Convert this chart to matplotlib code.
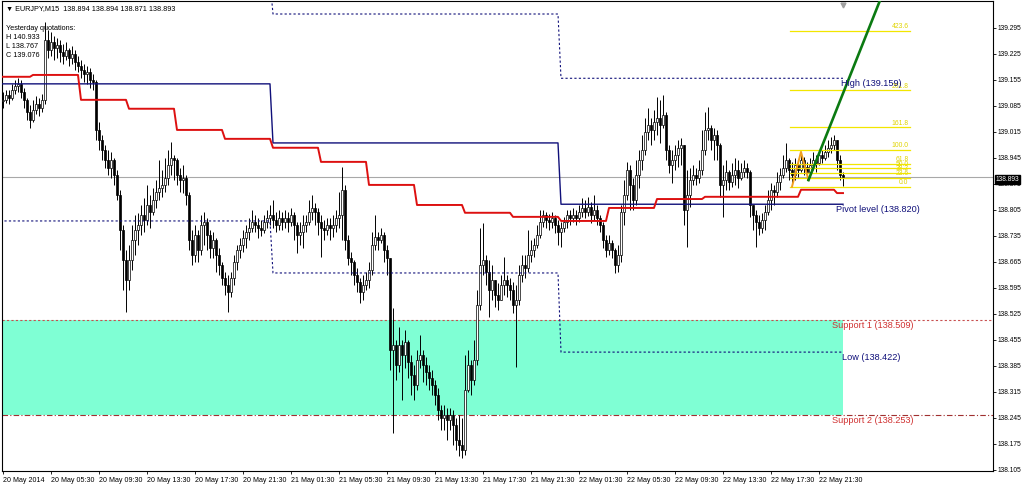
import numpy as np
import matplotlib
matplotlib.use("Agg")
import matplotlib.pyplot as plt
import matplotlib.transforms as mtransforms

plt.rcParams['font.family'] = ['Liberation Sans', 'DejaVu Sans']

# EURJPY M15 bars, 20 May 01:30 .. 22 May 23:30
first_open = 139.098
closes = [
    139.101, 139.114, 139.106, 139.128, 139.138, 139.144, 139.122, 139.101, 139.069, 139.047,
    139.074, 139.090, 139.079, 139.101, 139.262, 139.235, 139.257, 139.241, 139.249, 139.230,
    139.219, 139.235, 139.214, 139.225, 139.203, 139.192, 139.182, 139.171, 139.176, 139.155,
    139.149, 139.020, 138.993, 138.966, 138.939, 138.918, 138.939, 138.899, 138.845, 138.751,
    138.670, 138.616, 138.670, 138.724, 138.751, 138.764, 138.791, 138.778, 138.818, 138.799,
    138.832, 138.853, 138.864, 138.872, 138.891, 138.926, 138.945, 138.939, 138.899, 138.885,
    138.891, 138.845, 138.724, 138.684, 138.737, 138.697, 138.764, 138.772, 138.737, 138.702,
    138.724, 138.684, 138.657, 138.622, 138.603, 138.584, 138.622, 138.665, 138.697, 138.711,
    138.729, 138.745, 138.756, 138.772, 138.764, 138.756, 138.751, 138.772, 138.783, 138.791,
    138.778, 138.764, 138.783, 138.772, 138.783, 138.772, 138.791, 138.764, 138.737, 138.745,
    138.764, 138.772, 138.799, 138.810, 138.799, 138.772, 138.756, 138.751, 138.764, 138.756,
    138.764, 138.783, 138.791, 138.859, 138.724, 138.675, 138.665, 138.630, 138.611, 138.584,
    138.603, 138.616, 138.643, 138.711, 138.732, 138.724, 138.737, 138.697, 138.675, 138.428,
    138.441, 138.388, 138.441, 138.414, 138.449, 138.396, 138.361, 138.334, 138.401, 138.414,
    138.388, 138.369, 138.352, 138.334, 138.307, 138.266, 138.245, 138.253, 138.239, 138.253,
    138.226, 138.186, 138.172, 138.159, 138.320, 138.388, 138.347, 138.401, 138.549, 138.657,
    138.670, 138.638, 138.589, 138.616, 138.576, 138.562, 138.603, 138.616, 138.603, 138.589,
    138.549, 138.562, 138.630, 138.657, 138.649, 138.684, 138.697, 138.711, 138.737, 138.772,
    138.791, 138.778, 138.772, 138.783, 138.764, 138.745, 138.756, 138.772, 138.791, 138.783,
    138.791, 138.783, 138.799, 138.810, 138.799, 138.813, 138.791, 138.805, 138.783, 138.764,
    138.724, 138.697, 138.716, 138.697, 138.657, 138.684, 138.799, 138.845, 138.912, 138.872,
    138.832, 138.899, 138.939, 138.966, 139.015, 139.034, 139.020, 139.042, 139.052, 139.034,
    139.060, 138.966, 138.926, 138.939, 138.953, 138.972, 138.980, 138.805, 138.845, 138.885,
    138.899, 138.891, 138.912, 138.966, 139.020, 139.025, 138.993, 139.007, 138.980, 138.872,
    138.885, 138.907, 138.880, 138.899, 138.912, 138.891, 138.907, 138.918, 138.907, 138.818,
    138.791, 138.772, 138.756, 138.778, 138.799, 138.832, 138.859, 138.853, 138.880, 138.899,
    138.918, 138.939, 138.912, 138.899, 138.926, 138.912, 138.939, 138.920, 138.907, 138.926,
    138.939, 138.931, 138.953, 138.945, 138.961, 138.972, 138.980, 138.993, 138.939, 138.899,
    138.893,
]
highs = [
    139.122, 139.128, 139.128, 139.144, 139.155, 139.160, 139.155, 139.133, 139.106, 139.087,
    139.101, 139.112, 139.106, 139.117, 139.311, 139.289, 139.284, 139.273, 139.268, 139.262,
    139.252, 139.257, 139.241, 139.246, 139.235, 139.219, 139.208, 139.198, 139.192, 139.187,
    139.171, 139.155, 139.042, 139.007, 138.980, 138.966, 138.961, 138.945, 138.912, 138.859,
    138.764, 138.697, 138.711, 138.764, 138.791, 138.797, 138.818, 138.837, 138.872, 138.845,
    138.864, 138.885, 138.939, 138.912, 138.945, 138.966, 138.988, 138.953, 138.945, 138.918,
    138.926, 138.899, 138.853, 138.751, 138.764, 138.751, 138.791, 138.799, 138.783, 138.751,
    138.745, 138.729, 138.702, 138.665, 138.638, 138.630, 138.638, 138.684, 138.711, 138.729,
    138.751, 138.764, 138.783, 138.805, 138.791, 138.783, 138.778, 138.791, 138.805, 138.818,
    138.832, 138.799, 138.805, 138.799, 138.805, 138.799, 138.810, 138.799, 138.772, 138.772,
    138.791, 138.791, 138.832, 138.845, 138.824, 138.810, 138.791, 138.778, 138.783, 138.783,
    138.791, 138.805, 138.853, 138.920, 138.872, 138.737, 138.692, 138.670, 138.649, 138.622,
    138.630, 138.638, 138.665, 138.745, 138.791, 138.745, 138.756, 138.745, 138.711, 138.675,
    138.541, 138.455, 138.490, 138.455, 138.482, 138.455, 138.414, 138.388, 138.428, 138.468,
    138.428, 138.409, 138.388, 138.374, 138.347, 138.326, 138.280, 138.280, 138.272, 138.272,
    138.266, 138.245, 138.253, 138.245, 138.414, 138.428, 138.401, 138.455, 138.589, 138.756,
    138.770, 138.684, 138.670, 138.657, 138.616, 138.608, 138.630, 138.678, 138.630, 138.622,
    138.611, 138.603, 138.657, 138.684, 138.684, 138.751, 138.724, 138.729, 138.764, 138.805,
    138.805, 138.799, 138.794, 138.799, 138.791, 138.778, 138.772, 138.786, 138.805, 138.805,
    138.810, 138.805, 138.818, 138.837, 138.832, 138.840, 138.826, 138.845, 138.818, 138.791,
    138.772, 138.737, 138.737, 138.724, 138.702, 138.711, 138.818, 138.885, 138.934, 138.926,
    138.891, 138.939, 138.966, 139.007, 139.052, 139.079, 139.052, 139.074, 139.109, 139.101,
    139.114, 139.069, 138.980, 138.966, 138.980, 138.993, 138.999, 138.980, 138.912, 138.918,
    138.926, 138.918, 138.939, 139.020, 139.069, 139.082, 139.034, 139.025, 139.020, 138.985,
    138.926, 138.939, 138.912, 138.931, 138.945, 138.939, 138.931, 138.939, 138.931, 138.912,
    138.818, 138.805, 138.791, 138.797, 138.818, 138.859, 138.877, 138.872, 138.907, 138.918,
    138.953, 138.985, 138.945, 138.934, 138.945, 138.939, 138.961, 138.947, 138.934, 138.945,
    138.961, 138.953, 138.966, 138.966, 138.980, 138.993, 139.001, 139.007, 138.993, 138.953,
    138.907,
]
lows = [
    139.079, 139.093, 139.090, 139.101, 139.117, 139.122, 139.106, 139.079, 139.047, 139.025,
    139.042, 139.063, 139.058, 139.069, 139.090, 139.214, 139.219, 139.208, 139.214, 139.203,
    139.198, 139.208, 139.192, 139.198, 139.182, 139.176, 139.160, 139.149, 139.144, 139.133,
    139.128, 138.993, 138.966, 138.939, 138.918, 138.899, 138.891, 138.872, 138.832, 138.697,
    138.589, 138.530, 138.589, 138.643, 138.684, 138.711, 138.737, 138.745, 138.764, 138.756,
    138.791, 138.810, 138.832, 138.840, 138.853, 138.872, 138.899, 138.885, 138.872, 138.853,
    138.850, 138.818, 138.697, 138.657, 138.665, 138.665, 138.684, 138.711, 138.697, 138.675,
    138.675, 138.638, 138.630, 138.603, 138.576, 138.530, 138.570, 138.603, 138.643, 138.675,
    138.692, 138.702, 138.724, 138.745, 138.745, 138.729, 138.735, 138.743, 138.756, 138.764,
    138.756, 138.745, 138.751, 138.751, 138.756, 138.745, 138.762, 138.724, 138.689, 138.711,
    138.702, 138.745, 138.764, 138.778, 138.764, 138.737, 138.678, 138.724, 138.737, 138.724,
    138.732, 138.745, 138.756, 138.724, 138.697, 138.657, 138.630, 138.603, 138.584, 138.554,
    138.562, 138.589, 138.595, 138.630, 138.697, 138.697, 138.716, 138.665, 138.630, 138.374,
    138.204, 138.347, 138.369, 138.293, 138.379, 138.352, 138.307, 138.293, 138.320, 138.379,
    138.342, 138.334, 138.320, 138.307, 138.280, 138.239, 138.213, 138.213, 138.186, 138.213,
    138.172, 138.159, 138.142, 138.137, 138.145, 138.315, 138.307, 138.334, 138.388, 138.536,
    138.630, 138.603, 138.517, 138.562, 138.544, 138.536, 138.562, 138.576, 138.570, 138.562,
    138.527, 138.382, 138.549, 138.611, 138.622, 138.638, 138.665, 138.678, 138.702, 138.729,
    138.759, 138.756, 138.751, 138.756, 138.743, 138.711, 138.705, 138.745, 138.756, 138.764,
    138.772, 138.764, 138.772, 138.786, 138.783, 138.789, 138.770, 138.778, 138.764, 138.745,
    138.702, 138.678, 138.684, 138.675, 138.635, 138.638, 138.665, 138.764, 138.832, 138.805,
    138.805, 138.818, 138.864, 138.912, 138.953, 138.993, 138.980, 138.993, 139.007, 138.985,
    139.025, 138.939, 138.904, 138.877, 138.912, 138.920, 138.926, 138.764, 138.705, 138.813,
    138.872, 138.872, 138.877, 138.899, 138.953, 138.993, 138.966, 138.939, 138.939, 138.840,
    138.786, 138.859, 138.859, 138.867, 138.872, 138.864, 138.885, 138.894, 138.891, 138.786,
    138.751, 138.705, 138.737, 138.743, 138.751, 138.791, 138.805, 138.818, 138.840, 138.859,
    138.891, 138.907, 138.885, 138.867, 138.885, 138.894, 138.907, 138.899, 138.885, 138.891,
    138.912, 138.907, 138.926, 138.931, 138.939, 138.947, 138.958, 138.966, 138.912, 138.885,
    138.869,
]

# red stepped average (one level per 4h block, block start bar)
ma_starts = [0, 10, 26, 42, 58, 74, 90, 106, 122, 138, 154, 170, 186, 202, 218, 234, 250, 266, 278]
ma_levels = [139.163, 139.168, 139.101, 139.077, 139.020, 138.996, 138.972, 138.934, 138.872,
             138.818, 138.797, 138.786, 138.775, 138.810, 138.834, 138.840, 138.840, 138.859, 138.850]

# daily pivot / high / low
day_starts = [0, 90, 186]
pivots = [139.144, 138.985, 138.820]
day_highs = [139.420, 139.332, 139.159]
day_lows = [138.775, 138.635, 138.422]
support1 = 138.509
support2 = 138.253

# fibo + zigzag + trend line
fib_low, fib_high = 138.867, 138.966
fib_ratios = [0.0, 0.236, 0.382, 0.5, 0.618, 1.0, 1.618, 2.618, 4.236]
fib_names = ["0.0", "23.6", "38.2", "50.0", "61.8", "100.0", "161.8", "261.8", "423.6"]
fib_start, fib_end = 262.3, 302.3
zz_x = [263, 266, 268.5]
zz_y = [138.867, 138.961, 138.885]
trend_x = [268.5, 293]
trend_y = [138.885, 139.382]

time_labels = ["20 May 2014", "20 May 05:30", "20 May 09:30", "20 May 13:30", "20 May 17:30",
               "20 May 21:30", "21 May 01:30", "21 May 05:30", "21 May 09:30", "21 May 13:30",
               "21 May 17:30", "21 May 21:30", "22 May 01:30", "22 May 05:30", "22 May 09:30",
               "22 May 13:30", "22 May 17:30", "22 May 21:30"]
price_labels = ["139.295", "139.225", "139.155", "139.085", "139.015", "138.945", "138.875",
                "138.805", "138.735", "138.665", "138.595", "138.525", "138.455", "138.385",
                "138.315", "138.245", "138.175", "138.105"]

NAVY = "#10107A"
RED_TXT = "#D03030"

fig = plt.figure(figsize=(10.24, 4.86), dpi=100, facecolor="white")
ax = fig.add_axes([2 / 1024, 15 / 486, 991 / 1024, 470 / 486])
ax.set_xlim(-0.33, 330.0)
ax.set_ylim(138.102, 139.367)

n = len(closes)
idx = np.arange(n)
c = np.array(closes)
o = np.array([first_open] + closes[:-1])
h = np.maximum(np.array(highs), np.maximum(o, c))
l = np.minimum(np.array(lows), np.minimum(o, c))
last = n - 1

# support zone
ax.fill_between([-1, last], support2, support1, color="#7FFFD4", lw=0, zorder=1)
ax.axhline(support1, color="#C85050", lw=0.8, ls=(0, (2, 2)), zorder=2)
ax.axhline(support2, color="#A03030", lw=0.8, ls=(0, (5, 2, 1, 2)), zorder=2)

# candles
ax.vlines(idx, l, h, color="black", lw=0.7, zorder=3)
up = c >= o
body_lo = np.minimum(o, c)
body_h = np.maximum(np.abs(c - o), 0.0008)
ax.bar(idx[up], body_h[up], bottom=body_lo[up], width=0.62, color="white",
       edgecolor="black", lw=0.5, zorder=4)
ax.bar(idx[~up], body_h[~up], bottom=body_lo[~up], width=0.62, color="black",
       edgecolor="black", lw=0.5, zorder=4)

# current price line
ax.axhline(closes[-1], color="#A8A8A8", lw=0.8, zorder=2)

# daily lines (per bar)
day_len = np.diff(day_starts + [n])
piv_bar = np.repeat(pivots, day_len)
hi_bar = np.repeat(day_highs, day_len)
lo_bar = np.repeat(day_lows, day_len)
xx = np.concatenate([[-1], idx])
ax.plot(xx, np.concatenate([[piv_bar[0]], piv_bar]), color=NAVY, lw=1.0, zorder=5)
ax.plot(xx, np.concatenate([[hi_bar[0]], hi_bar]), color=NAVY, lw=0.8, ls=(0, (2, 2)), zorder=5)
ax.plot(xx, np.concatenate([[lo_bar[0]], lo_bar]), color=NAVY, lw=0.8, ls=(0, (2, 2)), zorder=5)

# red average
ma_bar = np.repeat(ma_levels, np.diff(ma_starts + [n]))
ax.plot(np.concatenate([[-1], idx]), np.concatenate([[ma_bar[0]], ma_bar]),
        color="#DD1010", lw=1.4, zorder=5)

# fibo levels
for r, name in zip(fib_ratios, fib_names):
    p = fib_low + r * (fib_high - fib_low)
    ax.plot([fib_start, fib_end], [p, p], color="#F2E600", lw=0.9, zorder=6)
    ax.text(fib_end - 0.5, p + 0.002, name, color="#E0D400", fontsize=4.9,
            ha="right", va="bottom", zorder=6)

ax.plot(zz_x, zz_y, color="#F0A020", lw=1.4, zorder=7)
ax.plot(trend_x, trend_y, color="#0B7A12", lw=1.9, zorder=7)

# level labels
lab = dict(fontsize=6.6, va="top", zorder=8)
ax.text(279.3, day_highs[2] - 0.003, "High (139.159)", color=NAVY, **lab)
ax.text(277.7, pivots[2] - 0.003, "Pivot level (138.820)", color=NAVY, **lab)
ax.text(276.3, support1 - 0.003, "Support 1 (138.509)", color=RED_TXT, **lab)
ax.text(279.6, day_lows[2] - 0.003, "Low (138.422)", color=NAVY, **lab)
ax.text(276.3, support2 - 0.003, "Support 2 (138.253)", color=RED_TXT, **lab)

# shift marker
ax.plot([last], [139.356], marker="v", color="#A0A0A0", ms=3.5, zorder=8)

# axes styling
for s in ax.spines.values():
    s.set_color("black")
    s.set_linewidth(0.8)
ax.set_xticks(np.arange(len(time_labels)) * 16)
ax.set_xticklabels(time_labels)
for t in ax.get_xticklabels():
    t.set_horizontalalignment("left")
ax.tick_params(axis="x", direction="out", length=2.5, width=0.6, labelsize=5.1, pad=1.5)
ax.yaxis.tick_right()
ax.set_yticks([float(v) for v in price_labels])
ax.set_yticklabels(price_labels)
ax.tick_params(axis="y", direction="out", length=2, width=0.6, labelsize=4.8, pad=1.2)

# current price box
trans = mtransforms.blended_transform_factory(ax.transAxes, ax.transData)
ax.text(1.0028, closes[-1] - 0.006, "138.893", transform=trans, color="white", fontsize=4.8,
        va="center", ha="left", zorder=10, clip_on=False,
        bbox=dict(facecolor="black", edgecolor="black", pad=0.6))

# header texts
fig.text(6 / 1024, 1 - 9 / 486, "\u25bc EURJPY,M15  138.894 138.894 138.871 138.893",
         fontsize=5.2, va="center", ha="left")
info = ["Yesterday quotations:", "H 140.933", "L 138.767", "C 139.076"]
for k, line in enumerate(info):
    fig.text(6 / 1024, 1 - (28 + 9.2 * k) / 486, line, fontsize=5.2, va="center", ha="left",
             zorder=10)

fig.savefig("out.png", dpi=100, facecolor="white")
